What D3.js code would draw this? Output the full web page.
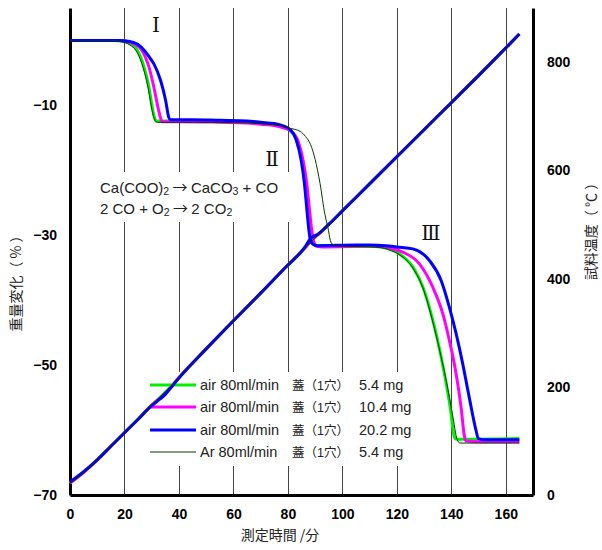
<!DOCTYPE html>
<html>
<head>
<meta charset="utf-8">
<script src="https://cdn.jsdelivr.net/npm/d3@7"></script>
<style>
  body { margin: 0; background: #fff; }
  svg { display: block; }
</style>
</head>
<body>
<svg id="chart" width="602" height="550"></svg>
<script>
// 時間軸の目盛り
const timeTicks = [0, 20, 40, 60, 80, 100, 120, 140, 160];
const weightTicks = [-10, -30, -50, -70];
const tempTicks = [0, 200, 400, 600, 800];

// 凡例
const seriesNames = ["air 80ml/min", "air 80ml/min", "air 80ml/min", "Ar 80ml/min"];
const seriesLid = ["蓋（1穴）", "蓋（1穴）", "蓋（1穴）", "蓋（1穴）"];
const seriesMass = ["5.4 mg", "10.4 mg", "20.2 mg", "5.4 mg"];
const seriesColors = ["#00f000", "#ff00ff", "#0000ff", "#003c00"];

// 重量変化 [分, %]
const weightGreen = [[0,0],[16,0],[20,-0.15],[22.5,-0.6],[24.7,-1.5],[26,-2.6],[27.2,-4.1],[29,-7.2],[30.2,-10.3],[31.1,-12.0],[31.6,-12.4],[40,-12.4],[55,-12.5],[65,-12.6],[70,-12.8],[75,-13.0],[78,-13.3],[80.8,-13.9],[83.2,-15.4],[85.1,-18.5],[86.3,-22.1],[87.1,-25.7],[87.9,-28.8],[88.7,-30.8],[89.8,-31.5],[92,-31.6],[105,-31.7],[110,-31.7],[114,-31.8],[117,-32.1],[121,-32.9],[125.9,-34.9],[129.6,-38],[132.6,-42.1],[135,-46.2],[137.5,-51.4],[139.6,-56.5],[141.1,-61.0],[141.9,-61.4],[145,-61.4],[165,-61.3]];
const weightMagenta = [[0,0],[17,0],[21,-0.15],[23.8,-0.6],[26,-1.3],[27.5,-2.4],[29,-4.1],[30.8,-7.2],[32.3,-10.3],[33.3,-12.0],[33.9,-12.5],[40,-12.5],[55,-12.6],[65,-12.7],[70,-12.9],[75,-13.1],[78,-13.4],[81.3,-14.0],[83.8,-15.6],[85.7,-18.7],[87,-22.3],[87.9,-25.9],[88.7,-29],[89.5,-31],[90.5,-31.7],[93,-31.8],[105,-31.7],[110,-31.6],[114,-31.7],[118,-32.0],[122.2,-32.6],[128.3,-34.4],[133.2,-38],[136.9,-42.1],[139.3,-46.2],[141.8,-51.4],[143.6,-56.5],[144.8,-60.9],[145.6,-61.7],[150,-61.8],[165,-61.8]];
const weightBlue = [[0,0],[18,0],[22,-0.15],[24.8,-0.6],[27.2,-1.5],[29,-2.5],[30.8,-3.6],[33.3,-6.2],[35.1,-9.2],[36.3,-11.9],[36.9,-12.2],[45,-12.2],[55,-12.3],[65,-12.4],[70,-12.6],[75,-12.8],[78,-13.1],[80.8,-13.7],[83,-15.2],[84.9,-18.5],[86.1,-22.1],[86.9,-25.7],[87.6,-28.8],[88.2,-30.6],[89,-31.3],[91,-31.6],[105,-31.5],[110,-31.5],[116,-31.6],[120,-31.8],[125.9,-32.1],[132,-33.9],[136.3,-37],[139.3,-41.1],[141.8,-45.2],[144.2,-49.8],[146.6,-55],[149.1,-60.1],[149.9,-61.3],[152,-61.5],[165,-61.5]];
const weightAr = [[0,0],[15,0],[19,-0.2],[22,-0.7],[24.3,-1.6],[25.7,-2.8],[27,-4.4],[28.8,-7.6],[30.1,-10.7],[31.2,-12.3],[32,-12.6],[45,-12.6],[65,-12.7],[72,-12.9],[77,-13.1],[80.5,-13.5],[84.5,-14.0],[86.5,-14.8],[88.3,-16],[90,-18.3],[91.8,-22],[93.6,-26.8],[94.7,-28.8],[95.6,-30.8],[96.4,-31.4],[100,-31.7],[110,-31.8],[114,-31.9],[117,-32.2],[121,-33.0],[126,-35.1],[130,-38.6],[133,-43],[135.6,-47.5],[138.2,-52.5],[140.4,-57.5],[142.2,-61.5],[143.2,-62.0],[150,-62.0],[165,-62.0]];

// 試料温度 [°C]
const tempTime    = [0, 5, 10, 15, 20, 25, 30, 33, 35, 37, 40, 50, 60, 70, 80, 85, 86.5, 88, 89.5, 91, 95, 100, 110, 120, 130, 140, 150, 160, 165];
const tempGreen   = [22, 42, 65, 90, 115, 140, 166, 180, 190, 200, 217, 270, 322, 373, 425, 450, 458, 466, 474, 481, 500, 525, 575, 625, 675, 725, 775, 826, 852];
const tempMagenta = [22, 42, 65, 90, 115, 140, 166, 179, 188, 199, 217, 270, 322, 373, 425, 450, 458, 467, 475, 481, 500, 525, 575, 625, 675, 725, 775, 826, 852];
const tempBlue    = [24, 43, 65, 90, 115, 140, 165, 177, 186, 198, 216, 270, 322, 373, 425, 450, 460, 472, 478, 482, 500, 525, 575, 625, 675, 725, 775, 826, 852];
const tempAr      = [22, 42, 65, 90, 115, 140, 166, 181, 191, 201, 217, 270, 322, 373, 425, 450, 458, 465, 473, 480, 500, 525, 575, 625, 675, 725, 775, 826, 852];

const svg = d3.select("#chart");
const x = d3.scaleLinear().domain([0, 170]).range([70, 533]);
const yW = d3.scaleLinear().domain([-70, 5]).range([495, 8]);
const yT = d3.scaleLinear().domain([0, 900]).range([495, 8]);

const tickFont = "'Liberation Sans', Arial, sans-serif";
const jpFont = "'Noto Sans CJK JP', 'Liberation Sans', sans-serif";
const textFont = "'Liberation Sans', 'Noto Sans CJK JP', sans-serif";

// 縦のグリッド線
svg.append("g")
    .selectAll("line")
    .data(timeTicks.filter((d) => d > 0))
    .enter()
    .append("line")
    .attr("x1", (d) => Math.round(x(d)) + 0.5)
    .attr("x2", (d) => Math.round(x(d)) + 0.5)
    .attr("y1", yW(5))
    .attr("y2", yW(-70))
    .attr("stroke", "#444")
    .attr("stroke-width", 1);

// 注釈と凡例の白い背景
svg.append("rect").attr("x", 92).attr("y", 172).attr("width", 202).attr("height", 50).attr("fill", "#fff");
svg.append("rect").attr("x", 146).attr("y", 372).attr("width", 270).attr("height", 94).attr("fill", "#fff");

// 軸
const axisBottom = svg.append("g")
    .attr("transform", `translate(0,${yW(-70)})`)
    .call(d3.axisBottom(x).tickValues(timeTicks).tickSize(0).tickPadding(14).tickSizeOuter(0));
const axisLeft = svg.append("g")
    .attr("transform", `translate(${x(0)},0)`)
    .call(d3.axisLeft(yW).tickValues(weightTicks).tickSize(0).tickPadding(13).tickSizeOuter(0));
const axisRight = svg.append("g")
    .attr("transform", `translate(${x(170)},0)`)
    .call(d3.axisRight(yT).tickValues(tempTicks).tickSize(0).tickPadding(14).tickSizeOuter(0));
[axisBottom, axisLeft, axisRight].forEach((g) => {
    g.attr("font-family", tickFont).attr("font-size", 14).attr("font-weight", "bold");
    g.select(".domain").attr("stroke", "#000").attr("stroke-width", 3);
    g.selectAll("text").attr("fill", "#000");
});

// 軸ラベル
svg.append("text")
    .attr("transform", "translate(21,280) rotate(-90)")
    .attr("text-anchor", "middle")
    .style("font-family", jpFont)
    .style("font-size", "14px")
    .attr("fill", "#222")
    .text("重量変化（ % ）");
svg.append("text")
    .attr("transform", "translate(596,228) rotate(-90)")
    .attr("text-anchor", "middle")
    .style("font-family", jpFont)
    .style("font-size", "14px")
    .attr("fill", "#222")
    .text("試料温度（ ℃ ）");
svg.append("text")
    .attr("x", 280)
    .attr("y", 540)
    .attr("text-anchor", "middle")
    .style("font-family", jpFont)
    .style("font-size", "14px")
    .attr("fill", "#222")
    .text("測定時間 /分");

// 段階の番号
const romans = [["Ⅰ", 156, 32], ["Ⅱ", 272, 166], ["Ⅲ", 431, 240]];
svg.append("g")
    .selectAll("text")
    .data(romans)
    .enter()
    .append("text")
    .attr("x", (d) => d[1])
    .attr("y", (d) => d[2])
    .attr("text-anchor", "middle")
    .style("font-family", "'DejaVu Serif', serif")
    .style("font-size", "20px")
    .attr("fill", "#111")
    .text((d) => d[0]);

// 反応式
const eq = svg.append("g")
    .style("font-family", textFont)
    .style("font-size", "15px")
    .attr("fill", "#222");
const arrow = (t) => t.append("tspan").style("font-family", jpFont).text(" → ");
const sub = (t, s) => {
    t.append("tspan").attr("dy", 2).style("font-size", "10.5px").text(s);
    return t;
};
const eq1 = eq.append("text").attr("x", 100).attr("y", 193);
eq1.append("tspan").text("Ca(COO)");
sub(eq1, "2");
arrow(eq1).attr("dy", -2);
eq1.append("tspan").text("CaCO");
sub(eq1, "3");
eq1.append("tspan").attr("dy", -2).text(" + CO");
const eq2 = eq.append("text").attr("x", 100).attr("y", 214);
eq2.append("tspan").text("2 CO + O");
sub(eq2, "2");
arrow(eq2).attr("dy", -2);
eq2.append("tspan").text("2 CO");
sub(eq2, "2");

// 凡例
const legendY = [385, 407, 430, 452];
const legend = svg.append("g")
    .selectAll("g")
    .data(seriesNames.map((n, i) => i))
    .enter()
    .append("g")
    .attr("transform", (i) => `translate(0,${legendY[i]})`);
legend.append("line")
    .attr("x1", 150).attr("x2", 196)
    .attr("stroke", (i) => seriesColors[i])
    .attr("stroke-width", (i) => i === 3 ? 1 : 3);
const legendText = (xPos, arr, size) => legend.append("text")
    .attr("x", xPos)
    .attr("y", 5)
    .style("font-family", textFont)
    .style("font-size", size)
    .attr("fill", "#222")
    .text((i) => arr[i]);
legendText(200, seriesNames, "14.5px");
legendText(292, seriesLid, "12.5px");
legendText(359, seriesMass, "14.5px");

// 曲線
const wLine = d3.line().x((d) => x(d[0])).y((d) => yW(d[1])).curve(d3.curveMonotoneX);
const tLine = d3.line().x((d) => x(d[0])).y((d) => yT(d[1])).curve(d3.curveMonotoneX);
const series = [
    { w: weightGreen, t: tempGreen, c: seriesColors[0], sw: 3 },
    { w: weightMagenta, t: tempMagenta, c: seriesColors[1], sw: 3 },
    { w: weightBlue, t: tempBlue, c: seriesColors[2], sw: 3 },
    { w: weightAr, t: tempAr, c: seriesColors[3], sw: 1 }
];
const curves = svg.append("g").attr("fill", "none").attr("stroke-linejoin", "round");
series.forEach((s) => {
    curves.append("path")
        .attr("d", tLine(tempTime.map((t, i) => [t, s.t[i]])))
        .attr("stroke", s.c)
        .attr("stroke-width", s.sw);
    curves.append("path")
        .attr("d", wLine(s.w))
        .attr("stroke", s.c)
        .attr("stroke-width", s.sw);
});
</script>
</body>
</html>
